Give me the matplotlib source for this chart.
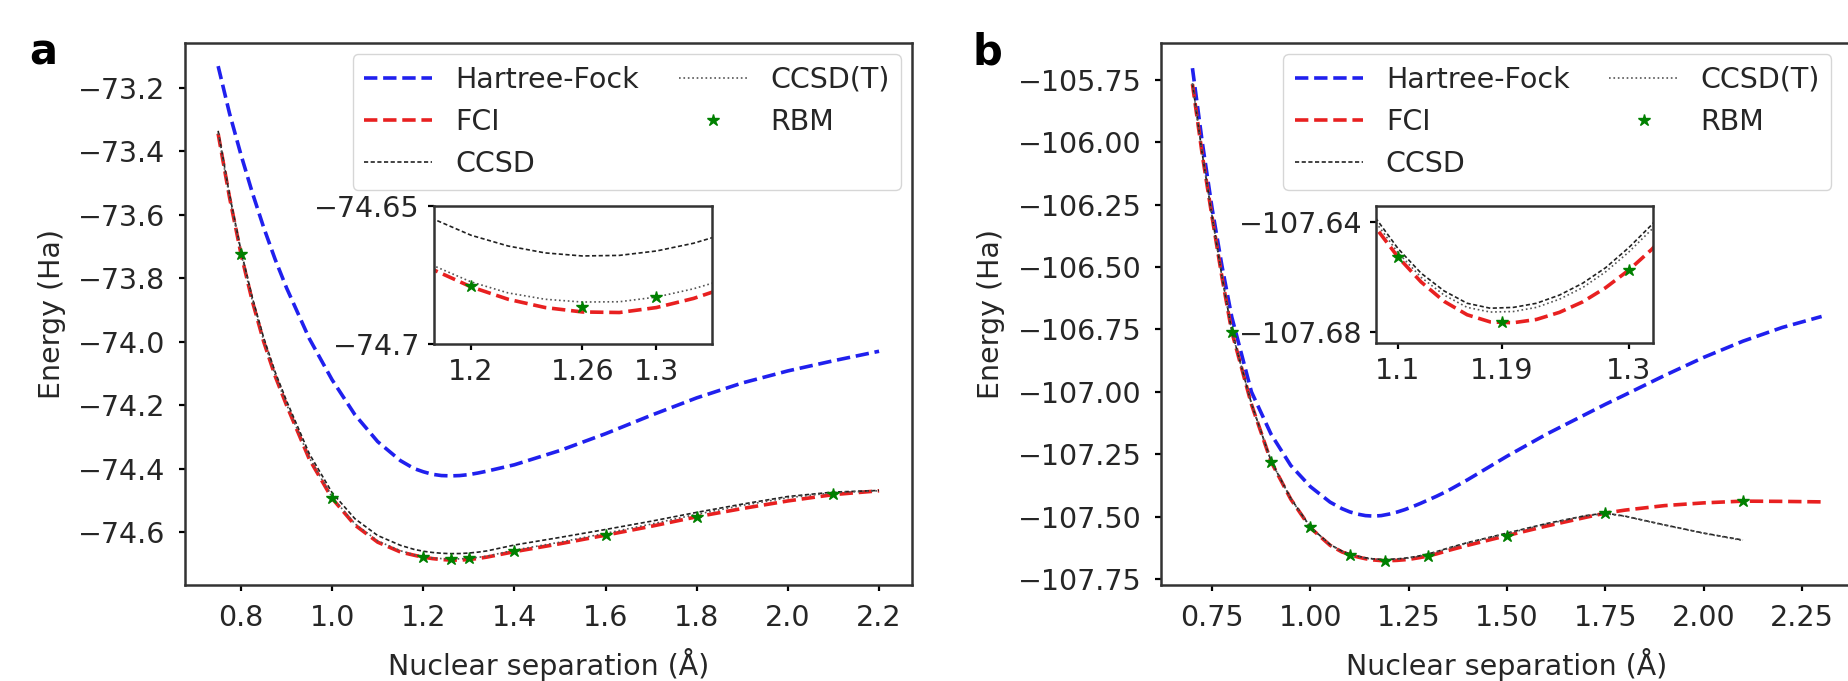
import numpy as np
import matplotlib.pyplot as plt

# panel a: bond dissociation curve (energies in Ha)
r_a = [0.75, 0.775, 0.8, 0.825, 0.85, 0.875, 0.9, 0.95, 1.0, 1.05, 1.1, 1.15,
       1.18, 1.2, 1.22, 1.24, 1.26, 1.28, 1.3, 1.32, 1.34, 1.4, 1.5, 1.6,
       1.7, 1.8, 1.9, 2.0, 2.1, 2.2]
hf_a = [-73.131, -73.28, -73.41, -73.53, -73.64, -73.74, -73.83, -73.99, -74.12,
        -74.23, -74.315, -74.375, -74.40, -74.41, -74.418, -74.422, -74.423,
        -74.422, -74.419, -74.414, -74.408, -74.388, -74.343, -74.29, -74.232,
        -74.177, -74.13, -74.092, -74.06, -74.03]
fci_a = [-73.344, -73.545, -73.722, -73.872, -74.000, -74.108, -74.200, -74.370,
         -74.494, -74.578, -74.632, -74.663, -74.6732, -74.6793, -74.6838,
         -74.6868, -74.6884, -74.6886, -74.6868, -74.6835, -74.679, -74.662,
         -74.637, -74.610, -74.582, -74.552, -74.526, -74.502, -74.482, -74.470]
ccsd_a = [-73.335, -73.536, -73.712, -73.861, -73.988, -74.095, -74.186, -74.353,
          -74.476, -74.558, -74.611, -74.642, -74.6548, -74.6606, -74.6645,
          -74.6670, -74.6681, -74.6679, -74.6663, -74.6635, -74.6595, -74.641,
          -74.617, -74.592, -74.566, -74.538, -74.512, -74.488, -74.474, -74.469]
ccsdt_a = [-73.343, -73.544, -73.720, -73.870, -73.997, -74.105, -74.197, -74.366,
           -74.490, -74.574, -74.628, -74.659, -74.6717, -74.6775, -74.6815,
           -74.6838, -74.6848, -74.6847, -74.683, -74.680, -74.676, -74.657,
           -74.632, -74.604, -74.575, -74.544, -74.516, -74.492, -74.476, -74.470]
rbm_r_a = [0.8, 1.0, 1.2, 1.26, 1.3, 1.4, 1.6, 1.8, 2.1]
rbm_a = [-73.722, -74.494, -74.679, -74.6865, -74.6828, -74.659, -74.61, -74.552, -74.481]

# panel b
r_b = [0.7, 0.725, 0.75, 0.775, 0.8, 0.85, 0.9, 0.95, 1.0, 1.05, 1.08, 1.1, 1.12,
       1.14, 1.16, 1.18, 1.2, 1.22, 1.24, 1.26, 1.28, 1.3, 1.32, 1.35, 1.4, 1.5,
       1.6, 1.7, 1.75, 1.8, 1.9, 2.0, 2.1, 2.2, 2.3]
hf_b = [-105.703, -106.00, -106.265, -106.495, -106.70, -107.00, -107.17, -107.295,
        -107.38, -107.442, -107.468, -107.481, -107.490, -107.496, -107.498,
        -107.496, -107.490, -107.482, -107.472, -107.460, -107.447, -107.433,
        -107.419, -107.396, -107.352, -107.258, -107.17, -107.09, -107.05,
        -107.012, -106.935, -106.862, -106.797, -106.742, -106.698]
fci_b = [-105.767, -106.05, -106.30, -106.54, -106.759, -107.05, -107.28, -107.43,
         -107.545, -107.615, -107.6415, -107.6526, -107.6617, -107.6688,
         -107.6737, -107.6763, -107.6766, -107.6754, -107.6728, -107.669,
         -107.6638, -107.6574, -107.6498, -107.636, -107.615, -107.576, -107.538,
         -107.503, -107.486, -107.474, -107.456, -107.445, -107.438, -107.439,
         -107.441]
r_cc_b = r_b[:33]
ccsd_b = [-105.764, -106.047, -106.297, -106.537, -106.756, -107.047, -107.277,
          -107.427, -107.542, -107.612, -107.638, -107.6495, -107.6585, -107.665,
          -107.6695, -107.6713, -107.671, -107.6695, -107.6665, -107.6622,
          -107.6565, -107.6492, -107.6408, -107.626, -107.604, -107.566, -107.528,
          -107.496, -107.486, -107.498, -107.533, -107.566, -107.594]
ccsdt_b = [-105.765, -106.048, -106.298, -106.538, -106.757, -107.048, -107.278,
           -107.428, -107.543, -107.613, -107.6395, -107.651, -107.66, -107.6665,
           -107.671, -107.6727, -107.6725, -107.671, -107.668, -107.6638,
           -107.658, -107.6508, -107.6425, -107.628, -107.606, -107.568, -107.530,
           -107.498, -107.488, -107.499, -107.534, -107.567, -107.596]
rbm_r_b = [0.8, 0.9, 1.0, 1.1, 1.19, 1.3, 1.5, 1.75, 2.1]
rbm_b = [-106.759, -107.28, -107.541, -107.6526, -107.6762, -107.6572, -107.576,
         -107.486, -107.437]

FS = 20.5
TXT = '#262626'
plt.rcParams['font.family'] = 'DejaVu Sans'
plt.rcParams['font.size'] = FS
plt.rcParams['text.color'] = TXT
plt.rcParams['axes.labelcolor'] = TXT
plt.rcParams['xtick.labelcolor'] = TXT
plt.rcParams['ytick.labelcolor'] = TXT
plt.rcParams['axes.linewidth'] = 1.8
plt.rcParams['axes.edgecolor'] = '#333333'
plt.rcParams['xtick.major.width'] = 1.6
plt.rcParams['ytick.major.width'] = 1.6
plt.rcParams['xtick.major.size'] = 4
plt.rcParams['ytick.major.size'] = 4
plt.rcParams['xtick.major.pad'] = 9.5
plt.rcParams['ytick.major.pad'] = 10


def draw_curves(ax, r, hf, fci, r_cc, ccsd, ccsdt, rbm_r, rbm, inset=False):
    lw = 2.6
    if not inset:
        ax.plot(r, hf, '--', color='#2020ee', lw=lw, label='Hartree-Fock')
    ax.plot(r, fci, '--', color='#e82020', lw=lw, label='FCI')
    ax.plot(r_cc, ccsd, '--', color='#222222', lw=1.2, dashes=(2.5, 1.5), label='CCSD')
    ax.plot(r_cc, ccsdt, ':', color='#555555', lw=1.2, label='CCSD(T)')
    ax.plot(rbm_r, rbm, '*', color='green', ms=9, ls='none', label='RBM')


fig = plt.figure(figsize=(18.49, 6.81), dpi=100)

ax_a = fig.add_axes([0.1001, 0.141, 0.3932, 0.7959])
draw_curves(ax_a, r_a, hf_a, fci_a, r_a, ccsd_a, ccsdt_a, rbm_r_a, rbm_a)
ax_a.set_xlim(0.6775, 2.2725)
ax_a.set_ylim(-74.767, -73.058)
ax_a.set_xticks([0.8, 1.0, 1.2, 1.4, 1.6, 1.8, 2.0, 2.2])
ax_a.set_yticks([-73.2, -73.4, -73.6, -73.8, -74.0, -74.2, -74.4, -74.6])
ax_a.set_xlabel('Nuclear separation (Å)', fontsize=FS, labelpad=12)
ax_a.set_ylabel('Energy (Ha)', fontsize=FS, labelpad=9)
ax_a.legend(ncol=2, loc='upper right', fontsize=FS, columnspacing=1.4,
            handlelength=2.4, borderaxespad=0.4)

ins_a = fig.add_axes([0.2347, 0.4949, 0.1504, 0.2026])
draw_curves(ins_a, r_a, hf_a, fci_a, r_a, ccsd_a, ccsdt_a, rbm_r_a, rbm_a, inset=True)
ins_a.set_xlim(1.18, 1.33)
ins_a.set_ylim(-74.70, -74.65)
ins_a.set_xticks([1.2, 1.26, 1.3])
ins_a.set_xticklabels(['1.2', '1.26', '1.3'])
ins_a.set_yticks([-74.65, -74.70])
ins_a.set_yticklabels(['\u221274.65', '\u221274.7'])
ins_a.tick_params(pad=6)

ax_b = fig.add_axes([0.6279, 0.141, 0.3743, 0.7959])
draw_curves(ax_b, r_b, hf_b, fci_b, r_cc_b, ccsd_b, ccsdt_b, rbm_r_b, rbm_b)
ax_b.set_xlim(0.62, 2.38)
ax_b.set_ylim(-107.774, -105.602)
ax_b.set_xticks([0.75, 1.0, 1.25, 1.5, 1.75, 2.0, 2.25])
ax_b.set_yticks([-105.75, -106.0, -106.25, -106.5, -106.75, -107.0, -107.25,
                 -107.5, -107.75])
ax_b.set_xlabel('Nuclear separation (Å)', fontsize=FS, labelpad=12)
ax_b.set_ylabel('Energy (Ha)', fontsize=FS, labelpad=9)
ax_b.legend(ncol=2, loc='upper right', fontsize=FS, columnspacing=1.4,
            handlelength=2.4, borderaxespad=0.4, bbox_to_anchor=(0.985, 1.0))

ins_b = fig.add_axes([0.7442, 0.4963, 0.1498, 0.2012])
draw_curves(ins_b, r_b, hf_b, fci_b, r_cc_b, ccsd_b, ccsdt_b, rbm_r_b, rbm_b, inset=True)
ins_b.set_xlim(1.081, 1.321)
ins_b.set_ylim(-107.684, -107.634)
ins_b.set_xticks([1.1, 1.19, 1.3])
ins_b.set_xticklabels(['1.1', '1.19', '1.3'])
ins_b.set_yticks([-107.64, -107.68])
ins_b.set_yticklabels(['\u2212107.64', '\u2212107.68'])
ins_b.tick_params(pad=6)

fig.text(0.016, 0.905, 'a', fontsize=30, fontweight='bold', color='black')
fig.text(0.526, 0.905, 'b', fontsize=30, fontweight='bold', color='black')

fig.savefig('out.png', dpi=100)
